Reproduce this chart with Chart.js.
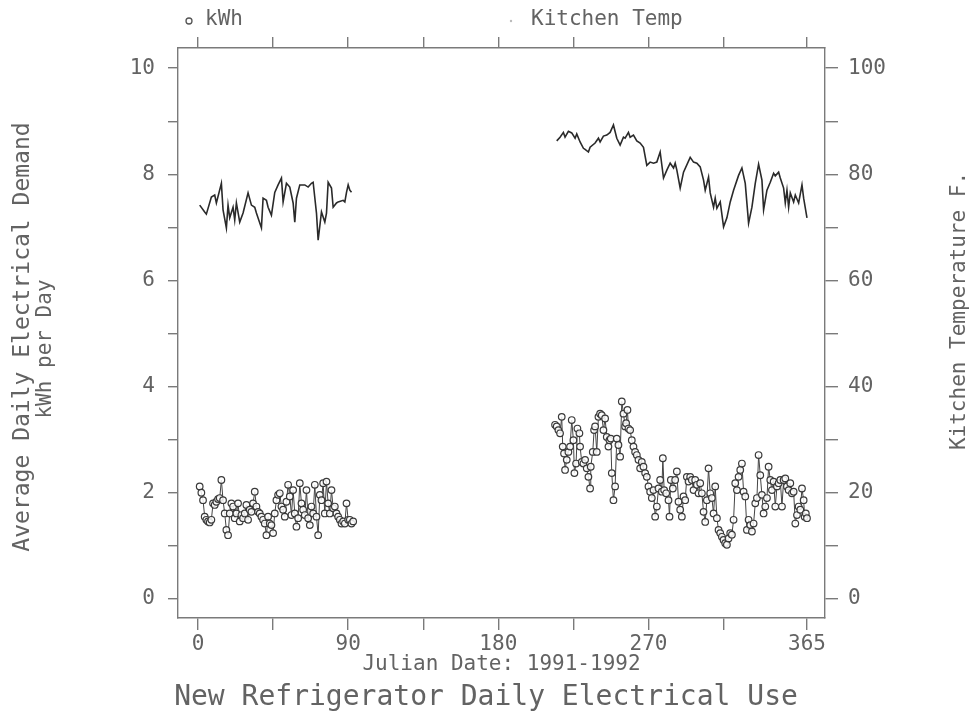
<!DOCTYPE html>
<html>
<head>
<meta charset="utf-8">
<script src="https://cdn.jsdelivr.net/npm/chart.js@4/dist/chart.umd.min.js"></script>
<style>
html,body{margin:0;padding:0;background:#fff;}
#wrap{width:972px;height:719px;position:relative;}
</style>
</head>
<body>
<div id="wrap"><canvas id="c" width="972" height="719"></canvas></div>
<script>
// ---- Data ----
const chartTitle = "New Refrigerator Daily Electrical Use";
const xAxisTitle = "Julian Date: 1991-1992";
const yLeftTitle = ["Average Daily Electrical Demand", "kWh per Day"];
const yRightTitle = "Kitchen Temperature F.";
const legendLabels = ["kWh", "Kitchen Temp"];

const xTickValues = [0, 45, 90, 135, 180, 225, 270, 315, 365];
const xLabelValues = [0, 90, 180, 270, 365];
const yLeftTicks = [0,1,2,3,4,5,6,7,8,9,10];
const yLeftLabels = [0,2,4,6,8,10];
const yRightTicks = [0,10,20,30,40,50,60,70,80,90,100];
const yRightLabels = [0,20,40,60,80,100];

// kWh, first period (days 1-93)
const kwhDays1 = [1,2,3,4,5,6,7,8,9,10,11,12,13,14,15,16,17,18,19,20,21,22,23,24,25,26,27,28,29,30,31,32,33,34,35,36,37,38,39,40,41,42,43,44,45,46,47,48,49,50,51,52,53,54,55,56,57,58,59,60,61,62,63,64,65,66,67,68,69,70,71,72,73,74,75,76,77,78,79,80,81,82,83,84,85,86,87,88,89,90,91,92,93];
const kwh1 = [2.12,2.00,1.86,1.55,1.49,1.46,1.44,1.49,1.80,1.77,1.83,1.88,1.90,2.24,1.86,1.61,1.30,1.20,1.61,1.80,1.74,1.52,1.61,1.80,1.46,1.58,1.52,1.61,1.77,1.49,1.68,1.64,1.80,2.02,1.74,1.64,1.61,1.55,1.49,1.42,1.20,1.55,1.42,1.39,1.24,1.61,1.86,1.96,1.99,1.74,1.68,1.55,1.83,2.15,1.93,1.58,2.05,1.61,1.36,1.52,2.18,1.80,1.68,1.58,2.05,1.52,1.39,1.74,1.61,2.15,1.55,1.20,1.96,1.86,2.18,1.61,2.21,1.80,1.61,2.05,1.71,1.74,1.61,1.55,1.49,1.42,1.46,1.42,1.80,1.49,1.49,1.42,1.46];

// kWh, second period
const kwhDays2 = [214,215,216,217,218,218.6,219.4,220,221,222,223,224,225,225.6,226.6,227.4,228.6,229,230,231,232,233,234,235,235.4,236.6,237.4,238,239,240,241,242,243,244,245,246,246.6,247.4,248,249,250,251,252,253,254,255,256,256.6,257.4,258,259,260,261,262,263,264,265,266,267,268,269,270,271,272,273,274,275,276,277,278,278.6,279.4,280.6,282,282.6,283.4,284.6,286,287,288,289,290,291,292,293,294,295,296,297,298,299,300,301,302,303,304,305,306,307,308,309,310,311,312,313,314,315,316,317,318,319,320,321,322,323,324,325,326,327,328,329,330,331,332,333,334,335,336,337,338,339,340,341,342,343,344,345,346,347,348,349,350,351,352,353,354,355,356,357,358,359,360,361,362,363,363.6,364.3,365];
const kwh2 = [3.28,3.25,3.18,3.12,3.43,2.87,2.74,2.43,2.62,2.77,2.87,3.37,2.99,2.37,2.55,3.21,3.12,2.87,2.58,2.55,2.62,2.46,2.30,2.08,2.49,2.77,3.18,3.25,2.77,3.43,3.49,3.46,3.18,3.40,3.05,2.87,2.99,3.02,2.37,1.86,2.12,3.02,2.90,2.68,3.72,3.49,3.25,3.31,3.56,3.21,3.18,2.99,2.87,2.77,2.71,2.62,2.46,2.58,2.49,2.37,2.30,2.12,2.02,1.90,2.05,1.55,1.74,2.08,2.24,2.02,2.65,2.05,1.99,1.86,1.55,2.24,2.08,2.24,2.40,1.83,1.68,1.55,1.93,1.86,2.30,2.21,2.30,2.24,2.05,2.24,2.15,1.99,2.18,1.99,1.64,1.45,1.86,2.46,1.99,1.90,1.61,2.12,1.52,1.30,1.24,1.17,1.11,1.05,1.02,1.14,1.24,1.21,1.49,2.18,2.05,2.30,2.43,2.55,2.02,1.93,1.30,1.49,1.39,1.27,1.42,1.80,1.90,2.71,2.33,1.96,1.61,1.74,1.90,2.49,2.24,2.05,2.21,1.74,2.12,2.18,2.24,1.74,2.24,2.27,2.12,2.05,2.18,1.99,2.02,1.42,1.58,1.74,1.68,2.08,1.86,1.55,1.61,1.52];

// Kitchen temperature (F), first period
const tempDays1 = [1,4,5,8,10,11,14,15,17,18,19,21,22,23,25,27,30,32,34,35,38,39,41,42,44,46,48,50,51,53,55,57,58,59,61,64,66,68,69,71,72,74,76,77,78,80,81,83,84,87,88,89,90,91,92];
const temp1 = [74.2,72.9,72.5,75.7,76.1,74.6,78.3,73.3,69.9,74.2,71.8,73.8,71.4,74.6,71.0,72.7,76.5,74.2,73.8,72.7,69.9,75.5,75.1,73.8,72.3,76.6,78.0,79.3,74.8,78.3,77.6,74.6,71.0,75.5,78.0,78.0,77.6,78.3,78.5,72.7,67.6,72.9,71.0,72.7,78.5,77.4,73.8,74.6,74.8,75.1,74.8,76.6,78.0,77.0,76.6];

// Kitchen temperature (F), second period
const tempDays2 = [215,217,219,220,222,224,226,227,229,231,232,234,235,238,240,241,243,245,247,249,251,253,255,256,258,259,261,263,265,267,269,271,273,275,277,279,281,283,285,286,287,289,291,295,297,299,301,303,304,306,307,309,310,311,313,315,317,319,321,324,326,328,330,332,334,336,338,339,341,343,345,346,348,349,351,352,353,354,355,357,358,360,362,363,365];
const temp2 = [86.3,87.0,87.9,87.0,88.1,87.8,86.8,87.6,86.1,84.9,84.7,84.2,85.1,85.9,86.8,86.1,87.2,87.4,87.9,89.3,86.8,85.5,87.0,86.8,87.9,87.0,87.4,86.3,85.9,85.1,81.7,82.3,82.1,82.3,84.2,79.3,80.8,82.1,81.2,82.1,80.8,77.4,80.4,83.2,82.3,82.1,81.4,78.9,77.0,79.5,76.5,73.8,75.5,73.6,74.8,70.1,71.8,74.8,77.0,79.8,81.2,78.3,70.8,73.8,78.3,81.9,78.9,73.3,77.0,78.5,80.2,79.7,80.4,79.3,77.4,74.6,77.0,73.8,76.5,74.8,76.1,74.6,78.0,75.5,71.8];

// ---- Build chart ----
const pts = (xs, ys) => xs.map((x, i) => ({x: x, y: ys[i]}));
const FONT = "'DejaVu Sans Mono', 'Liberation Mono', monospace";
const TXT = '#636363';
const AX = '#7a7a7a';

const kwhStyle = {
  type: 'line', yAxisID: 'y', showLine: true,
  borderColor: '#444', borderWidth: 1,
  pointRadius: 3.3, pointStyle: 'circle',
  pointBackgroundColor: 'rgba(255,255,255,0.85)',
  pointBorderColor: '#3a3a3a', pointBorderWidth: 1.2,
  tension: 0
};
const tempStyle = {
  type: 'line', yAxisID: 'y2', showLine: true,
  borderColor: '#2a2a2a', borderWidth: 1.6,
  pointRadius: 0, tension: 0
};

const overlay = {
  id: 'overlay',
  afterDraw(chart) {
    const ctx = chart.ctx;
    ctx.save();
    ctx.fillStyle = TXT;
    // legend
    ctx.font = "21px " + FONT;
    ctx.textBaseline = 'middle';
    ctx.textAlign = 'left';
    ctx.beginPath();
    ctx.arc(189, 21, 3, 0, Math.PI * 2);
    ctx.strokeStyle = '#555';
    ctx.lineWidth = 1.3;
    ctx.stroke();
    ctx.fillText(legendLabels[0], 205, 20);
    ctx.beginPath();
    ctx.arc(511, 21, 1.2, 0, Math.PI * 2);
    ctx.fillStyle = '#bbb';
    ctx.fill();
    ctx.fillStyle = TXT;
    ctx.fillText(legendLabels[1], 531, 20);
    // left axis title (two lines, different sizes)
    ctx.textAlign = 'center';
    ctx.save();
    ctx.translate(23, 337);
    ctx.rotate(-Math.PI / 2);
    ctx.font = "23px " + FONT;
    ctx.fillText(yLeftTitle[0], 0, 0);
    ctx.restore();
    ctx.save();
    ctx.translate(46, 349);
    ctx.rotate(-Math.PI / 2);
    ctx.font = "21px " + FONT;
    ctx.fillText(yLeftTitle[1], 0, 0);
    ctx.restore();
    // right axis title
    ctx.save();
    ctx.translate(960, 311);
    ctx.rotate(-Math.PI / 2);
    ctx.font = "21px " + FONT;
    ctx.fillText(yRightTitle, 0, 0);
    ctx.restore();
    ctx.restore();
  }
};

const gridCommon = (len) => ({
  drawOnChartArea: false, drawTicks: true, tickLength: len,
  color: AX, lineWidth: 1.4
});
const borderCommon = { display: true, color: AX, width: 1.4 };

new Chart(document.getElementById('c'), {
  type: 'line',
  data: {
    datasets: [
      Object.assign({ label: 'kWh', data: pts(kwhDays1, kwh1) }, kwhStyle),
      Object.assign({ label: 'kWh ', data: pts(kwhDays2, kwh2) }, kwhStyle),
      Object.assign({ label: 'Kitchen Temp', data: pts(tempDays1, temp1) }, tempStyle),
      Object.assign({ label: 'Kitchen Temp ', data: pts(tempDays2, temp2) }, tempStyle)
    ]
  },
  options: {
    responsive: false,
    animation: false,
    devicePixelRatio: 1,
    layout: { padding: 0 },
    plugins: {
      legend: { display: false },
      tooltip: { enabled: false },
      title: {
        display: true, position: 'bottom', text: chartTitle,
        color: TXT, font: { family: FONT, size: 28, weight: 'normal', lineHeight: 1.2 },
        padding: { top: 0, bottom: 4 }
      }
    },
    scales: {
      x: {
        type: 'linear', position: 'bottom', min: -12, max: 375.8,
        afterBuildTicks: (s) => { s.ticks = xTickValues.map(v => ({ value: v })); },
        afterFit: (s) => { s.height = 63.4; },
        ticks: {
          autoSkip: false, maxRotation: 0, padding: 2, color: TXT,
          font: { family: FONT, size: 21 },
          callback: (v) => xLabelValues.includes(v) ? String(v) : ''
        },
        grid: gridCommon(12), border: borderCommon,
        title: {
          display: true, text: xAxisTitle, color: TXT,
          font: { family: FONT, size: 21, lineHeight: 1.2 },
          padding: { top: 0, bottom: 4 }
        }
      },
      xTop: {
        type: 'linear', position: 'top', min: -12, max: 375.8,
        afterBuildTicks: (s) => { s.ticks = xTickValues.map(v => ({ value: v })); },
        afterFit: (s) => { s.height = 48; },
        ticks: { display: false, autoSkip: false },
        grid: gridCommon(11), border: borderCommon
      },
      y: {
        type: 'linear', position: 'left', min: -0.36, max: 10.38,
        afterBuildTicks: (s) => { s.ticks = yLeftTicks.map(v => ({ value: v })); },
        afterFit: (s) => { s.width = 178; },
        ticks: {
          autoSkip: false, padding: 13, color: TXT,
          font: { family: FONT, size: 21 },
          callback: (v) => yLeftLabels.includes(v) ? String(v) : ''
        },
        grid: gridCommon(10), border: borderCommon
      },
      y2: {
        type: 'linear', position: 'right', min: -3.6, max: 103.8,
        afterBuildTicks: (s) => { s.ticks = yRightTicks.map(v => ({ value: v })); },
        afterFit: (s) => { s.width = 147; },
        ticks: {
          autoSkip: false, padding: 10, color: TXT,
          font: { family: FONT, size: 21 },
          callback: (v) => yRightLabels.includes(v) ? String(v) : ''
        },
        grid: gridCommon(13), border: borderCommon
      }
    }
  },
  plugins: [overlay]
});
</script>
</body>
</html>
